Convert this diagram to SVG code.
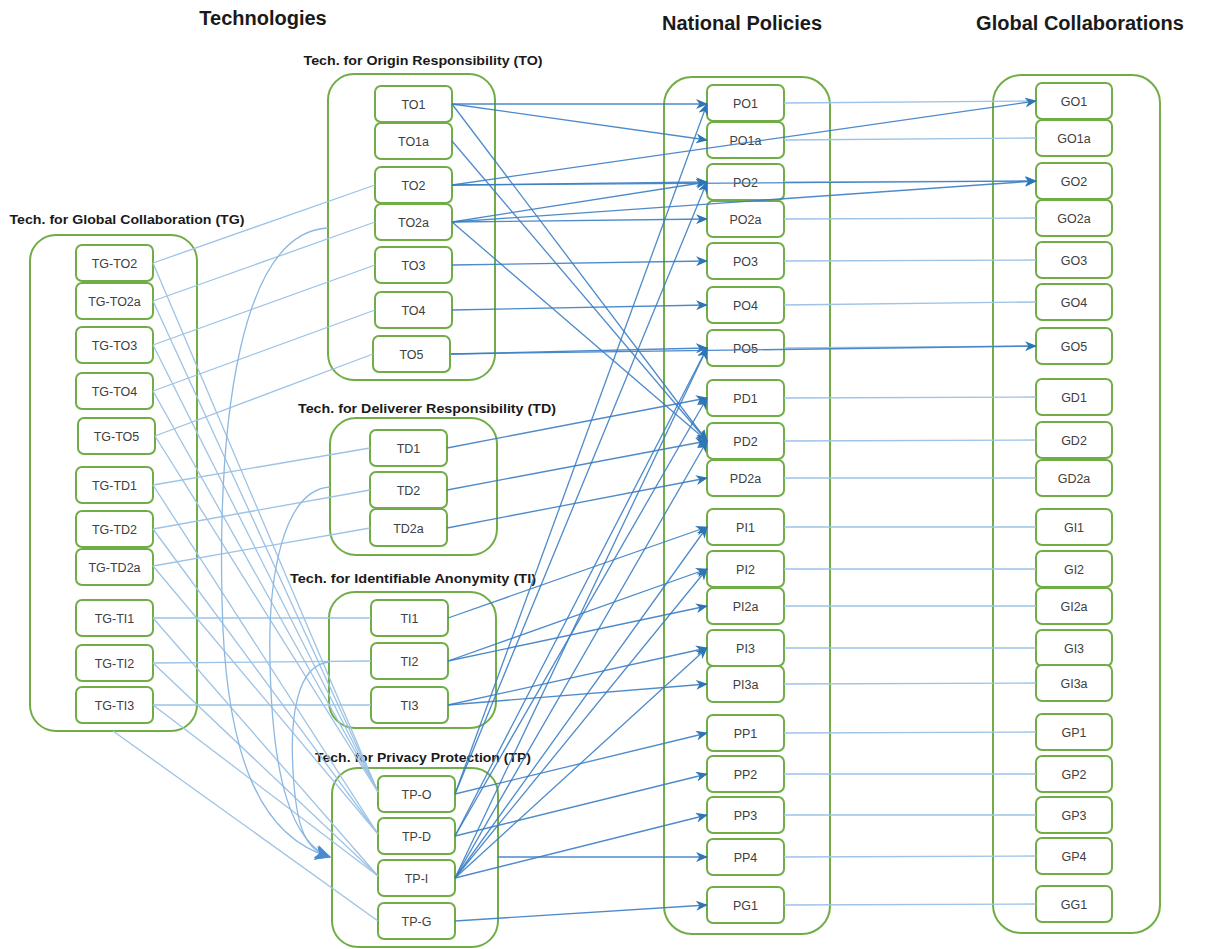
<svg xmlns="http://www.w3.org/2000/svg" width="1207" height="949" viewBox="0 0 1207 949">
<defs>
<marker id="ah" markerUnits="userSpaceOnUse" markerWidth="12" markerHeight="10" refX="11" refY="5" orient="auto">
<path d="M0,0 L12,5 L0,10 L3.5,5 Z" fill="#2E75B6"/>
</marker>
<marker id="ahb" markerUnits="userSpaceOnUse" markerWidth="16" markerHeight="14" refX="15" refY="7" orient="auto">
<path d="M0,0 L16,7 L0,14 L4,7 Z" fill="#4A8BD0"/>
</marker>
</defs>
<style>
.cont{fill:none;stroke:#70AD47;stroke-width:2}
.node rect{fill:#fff;stroke:#70AD47;stroke-width:2}
.node text{font-family:"Liberation Sans",Arial,sans-serif;font-size:12.5px;fill:#404040;text-anchor:middle}
.title{font-family:"Liberation Sans",Arial,sans-serif;font-weight:bold;font-size:20px;fill:#1a1a1a;text-anchor:middle}
.glabel{font-family:"Liberation Sans",Arial,sans-serif;font-weight:bold;font-size:12.5px;fill:#1a1a1a;text-anchor:middle}
.lt{fill:none;stroke:#9DC3E6;stroke-width:1.3}
.ar{fill:none;stroke:#3A7DC4;stroke-width:1.3;stroke-opacity:0.9;marker-end:url(#ah)}
.cv{fill:none;stroke:#8DB8E2;stroke-width:1.3;marker-end:url(#ahb)}
</style>

<g id="titles">
<text class="title" x="263" y="25">Technologies</text>
<text class="title" x="742" y="30">National Policies</text>
<text class="title" x="1080" y="30">Global Collaborations</text>
<text class="glabel" x="423" y="65" textLength="239" lengthAdjust="spacingAndGlyphs">Tech. for Origin Responsibility (TO)</text>
<text class="glabel" x="127" y="224" textLength="235" lengthAdjust="spacingAndGlyphs">Tech. for Global Collaboration (TG)</text>
<text class="glabel" x="427" y="413" textLength="258" lengthAdjust="spacingAndGlyphs">Tech. for Deliverer Responsibility (TD)</text>
<text class="glabel" x="413" y="583" textLength="246" lengthAdjust="spacingAndGlyphs">Tech. for Identifiable Anonymity (TI)</text>
<text class="glabel" x="423" y="762" textLength="216" lengthAdjust="spacingAndGlyphs">Tech. for Privacy Protection (TP)</text>
</g>

<g id="containers">
<rect class="cont" x="328" y="74" width="167" height="306" rx="26"/>
<rect class="cont" x="30" y="235" width="167" height="496" rx="26"/>
<rect class="cont" x="330" y="418" width="167" height="137" rx="26"/>
<rect class="cont" x="329" y="592" width="167" height="136" rx="26"/>
<rect class="cont" x="332" y="768" width="166" height="179" rx="26"/>
<rect class="cont" x="664" y="77" width="166" height="857" rx="28"/>
<rect class="cont" x="993" y="75" width="167" height="858" rx="28"/>
</g>

<g id="tg-nodes">
<g id="TG-TO2" class="node"><rect x="76" y="245" width="77" height="36" rx="6"/><text x="114.5" y="268">TG-TO2</text></g>
<g id="TG-TO2a" class="node"><rect x="76" y="283" width="77" height="36" rx="6"/><text x="114.5" y="306">TG-TO2a</text></g>
<g id="TG-TO3" class="node"><rect x="76" y="327" width="77" height="36" rx="6"/><text x="114.5" y="350">TG-TO3</text></g>
<g id="TG-TO4" class="node"><rect x="76" y="373" width="77" height="36" rx="6"/><text x="114.5" y="396">TG-TO4</text></g>
<g id="TG-TO5" class="node"><rect x="78" y="418" width="77" height="36" rx="6"/><text x="116.5" y="441">TG-TO5</text></g>
<g id="TG-TD1" class="node"><rect x="76" y="467" width="77" height="36" rx="6"/><text x="114.5" y="490">TG-TD1</text></g>
<g id="TG-TD2" class="node"><rect x="76" y="511" width="77" height="36" rx="6"/><text x="114.5" y="534">TG-TD2</text></g>
<g id="TG-TD2a" class="node"><rect x="76" y="549" width="77" height="36" rx="6"/><text x="114.5" y="572">TG-TD2a</text></g>
<g id="TG-TI1" class="node"><rect x="76" y="600" width="77" height="36" rx="6"/><text x="114.5" y="623">TG-TI1</text></g>
<g id="TG-TI2" class="node"><rect x="76" y="645" width="77" height="36" rx="6"/><text x="114.5" y="668">TG-TI2</text></g>
<g id="TG-TI3" class="node"><rect x="76" y="687" width="77" height="36" rx="6"/><text x="114.5" y="710">TG-TI3</text></g>
</g>

<g id="to-nodes">
<g id="TO1" class="node"><rect x="375" y="86" width="77" height="36" rx="6"/><text x="413.5" y="109">TO1</text></g>
<g id="TO1a" class="node"><rect x="375" y="123" width="77" height="36" rx="6"/><text x="413.5" y="146">TO1a</text></g>
<g id="TO2" class="node"><rect x="375" y="167" width="77" height="36" rx="6"/><text x="413.5" y="190">TO2</text></g>
<g id="TO2a" class="node"><rect x="375" y="204" width="77" height="36" rx="6"/><text x="413.5" y="227">TO2a</text></g>
<g id="TO3" class="node"><rect x="375" y="247" width="77" height="36" rx="6"/><text x="413.5" y="270">TO3</text></g>
<g id="TO4" class="node"><rect x="375" y="292" width="77" height="36" rx="6"/><text x="413.5" y="315">TO4</text></g>
<g id="TO5" class="node"><rect x="373" y="336" width="77" height="36" rx="6"/><text x="411.5" y="359">TO5</text></g>
</g>

<g id="td-nodes">
<g id="TD1" class="node"><rect x="370" y="430" width="77" height="36" rx="6"/><text x="408.5" y="453">TD1</text></g>
<g id="TD2" class="node"><rect x="370" y="472" width="77" height="36" rx="6"/><text x="408.5" y="495">TD2</text></g>
<g id="TD2a" class="node"><rect x="370" y="509" width="77" height="37" rx="6"/><text x="408.5" y="533">TD2a</text></g>
</g>

<g id="ti-nodes">
<g id="TI1" class="node"><rect x="371" y="600" width="77" height="36" rx="6"/><text x="409.5" y="623">TI1</text></g>
<g id="TI2" class="node"><rect x="371" y="643" width="77" height="36" rx="6"/><text x="409.5" y="666">TI2</text></g>
<g id="TI3" class="node"><rect x="371" y="687" width="77" height="36" rx="6"/><text x="409.5" y="710">TI3</text></g>
</g>

<g id="tp-nodes">
<g id="TP-O" class="node"><rect x="378" y="776" width="77" height="36" rx="6"/><text x="416.5" y="799">TP-O</text></g>
<g id="TP-D" class="node"><rect x="378" y="818" width="77" height="36" rx="6"/><text x="416.5" y="841">TP-D</text></g>
<g id="TP-I" class="node"><rect x="378" y="860" width="77" height="36" rx="6"/><text x="416.5" y="883">TP-I</text></g>
<g id="TP-G" class="node"><rect x="378" y="903" width="77" height="36" rx="6"/><text x="416.5" y="926">TP-G</text></g>
</g>

<g id="policy-nodes">
<g id="PO1" class="node"><rect x="707" y="85" width="77" height="36" rx="6"/><text x="745.5" y="108">PO1</text></g>
<g id="PO1a" class="node"><rect x="707" y="122" width="77" height="36" rx="6"/><text x="745.5" y="145">PO1a</text></g>
<g id="PO2" class="node"><rect x="707" y="164" width="77" height="36" rx="6"/><text x="745.5" y="187">PO2</text></g>
<g id="PO2a" class="node"><rect x="707" y="201" width="77" height="36" rx="6"/><text x="745.5" y="224">PO2a</text></g>
<g id="PO3" class="node"><rect x="707" y="243" width="77" height="36" rx="6"/><text x="745.5" y="266">PO3</text></g>
<g id="PO4" class="node"><rect x="707" y="287" width="77" height="36" rx="6"/><text x="745.5" y="310">PO4</text></g>
<g id="PO5" class="node"><rect x="707" y="330" width="77" height="36" rx="6"/><text x="745.5" y="353">PO5</text></g>
<g id="PD1" class="node"><rect x="707" y="380" width="77" height="36" rx="6"/><text x="745.5" y="403">PD1</text></g>
<g id="PD2" class="node"><rect x="707" y="423" width="77" height="36" rx="6"/><text x="745.5" y="446">PD2</text></g>
<g id="PD2a" class="node"><rect x="707" y="460" width="77" height="36" rx="6"/><text x="745.5" y="483">PD2a</text></g>
<g id="PI1" class="node"><rect x="707" y="509" width="77" height="36" rx="6"/><text x="745.5" y="532">PI1</text></g>
<g id="PI2" class="node"><rect x="707" y="551" width="77" height="36" rx="6"/><text x="745.5" y="574">PI2</text></g>
<g id="PI2a" class="node"><rect x="707" y="588" width="77" height="36" rx="6"/><text x="745.5" y="611">PI2a</text></g>
<g id="PI3" class="node"><rect x="707" y="630" width="77" height="36" rx="6"/><text x="745.5" y="653">PI3</text></g>
<g id="PI3a" class="node"><rect x="707" y="666" width="77" height="36" rx="6"/><text x="745.5" y="689">PI3a</text></g>
<g id="PP1" class="node"><rect x="707" y="715" width="77" height="36" rx="6"/><text x="745.5" y="738">PP1</text></g>
<g id="PP2" class="node"><rect x="707" y="756" width="77" height="36" rx="6"/><text x="745.5" y="779">PP2</text></g>
<g id="PP3" class="node"><rect x="707" y="797" width="77" height="36" rx="6"/><text x="745.5" y="820">PP3</text></g>
<g id="PP4" class="node"><rect x="707" y="839" width="77" height="36" rx="6"/><text x="745.5" y="862">PP4</text></g>
<g id="PG1" class="node"><rect x="707" y="887" width="77" height="36" rx="6"/><text x="745.5" y="910">PG1</text></g>
</g>

<g id="global-nodes">
<g id="GO1" class="node"><rect x="1036" y="83" width="76" height="36" rx="6"/><text x="1074" y="106">GO1</text></g>
<g id="GO1a" class="node"><rect x="1036" y="120" width="76" height="36" rx="6"/><text x="1074" y="143">GO1a</text></g>
<g id="GO2" class="node"><rect x="1036" y="163" width="76" height="36" rx="6"/><text x="1074" y="186">GO2</text></g>
<g id="GO2a" class="node"><rect x="1036" y="200" width="76" height="36" rx="6"/><text x="1074" y="223">GO2a</text></g>
<g id="GO3" class="node"><rect x="1036" y="242" width="76" height="36" rx="6"/><text x="1074" y="265">GO3</text></g>
<g id="GO4" class="node"><rect x="1036" y="284" width="76" height="36" rx="6"/><text x="1074" y="307">GO4</text></g>
<g id="GO5" class="node"><rect x="1036" y="328" width="76" height="36" rx="6"/><text x="1074" y="351">GO5</text></g>
<g id="GD1" class="node"><rect x="1036" y="379" width="76" height="36" rx="6"/><text x="1074" y="402">GD1</text></g>
<g id="GD2" class="node"><rect x="1036" y="422" width="76" height="36" rx="6"/><text x="1074" y="445">GD2</text></g>
<g id="GD2a" class="node"><rect x="1036" y="460" width="76" height="36" rx="6"/><text x="1074" y="483">GD2a</text></g>
<g id="GI1" class="node"><rect x="1036" y="509" width="76" height="36" rx="6"/><text x="1074" y="532">GI1</text></g>
<g id="GI2" class="node"><rect x="1036" y="551" width="76" height="36" rx="6"/><text x="1074" y="574">GI2</text></g>
<g id="GI2a" class="node"><rect x="1036" y="588" width="76" height="36" rx="6"/><text x="1074" y="611">GI2a</text></g>
<g id="GI3" class="node"><rect x="1036" y="630" width="76" height="36" rx="6"/><text x="1074" y="653">GI3</text></g>
<g id="GI3a" class="node"><rect x="1036" y="665" width="76" height="36" rx="6"/><text x="1074" y="688">GI3a</text></g>
<g id="GP1" class="node"><rect x="1036" y="714" width="76" height="36" rx="6"/><text x="1074" y="737">GP1</text></g>
<g id="GP2" class="node"><rect x="1036" y="756" width="76" height="36" rx="6"/><text x="1074" y="779">GP2</text></g>
<g id="GP3" class="node"><rect x="1036" y="797" width="76" height="36" rx="6"/><text x="1074" y="820">GP3</text></g>
<g id="GP4" class="node"><rect x="1036" y="838" width="76" height="36" rx="6"/><text x="1074" y="861">GP4</text></g>
<g id="GG1" class="node"><rect x="1036" y="886" width="76" height="36" rx="6"/><text x="1074" y="909">GG1</text></g>
</g>

<g id="connectors">
<!-- TG to TO/TD/TI -->
<line class="lt" x1="153" y1="263" x2="375" y2="185"/>
<line class="lt" x1="153" y1="301" x2="375" y2="222"/>
<line class="lt" x1="153" y1="345" x2="375" y2="265"/>
<line class="lt" x1="153" y1="391" x2="375" y2="310"/>
<line class="lt" x1="155" y1="436" x2="373" y2="354"/>
<line class="lt" x1="153" y1="485" x2="370" y2="448"/>
<line class="lt" x1="153" y1="529" x2="370" y2="490"/>
<line class="lt" x1="153" y1="566" x2="370" y2="528"/>
<line class="lt" x1="153" y1="618" x2="371" y2="618"/>
<line class="lt" x1="153" y1="663" x2="371" y2="661"/>
<line class="lt" x1="153" y1="705" x2="371" y2="705"/>
<!-- TG to TP -->
<line class="lt" x1="153" y1="263" x2="378" y2="792"/>
<line class="lt" x1="153" y1="301" x2="378" y2="792"/>
<line class="lt" x1="153" y1="345" x2="378" y2="792"/>
<line class="lt" x1="153" y1="391" x2="378" y2="792"/>
<line class="lt" x1="155" y1="436" x2="378" y2="792"/>
<line class="lt" x1="153" y1="485" x2="378" y2="834"/>
<line class="lt" x1="153" y1="529" x2="378" y2="834"/>
<line class="lt" x1="153" y1="566" x2="378" y2="834"/>
<line class="lt" x1="153" y1="618" x2="378" y2="876"/>
<line class="lt" x1="153" y1="663" x2="378" y2="876"/>
<line class="lt" x1="153" y1="705" x2="378" y2="876"/>
<line class="lt" x1="113" y1="731" x2="378" y2="921"/>
<!-- curves into TP -->
<path class="cv" d="M328,228 C240,232 218,420 222,600 C225,760 262,838 330,857"/>
<path class="cv" d="M330,487 C282,490 268,580 270,660 C272,780 292,842 330,857"/>
<path class="cv" d="M329,662 C296,665 290,720 293,770 C296,830 306,850 330,857"/>
<!-- PO to GO -->
<line class="lt" x1="784" y1="103" x2="1036" y2="101"/>
<line class="lt" x1="784" y1="140" x2="1036" y2="138"/>
<line class="lt" x1="784" y1="182" x2="1036" y2="181"/>
<line class="lt" x1="784" y1="219" x2="1036" y2="218"/>
<line class="lt" x1="784" y1="261" x2="1036" y2="260"/>
<line class="lt" x1="784" y1="305" x2="1036" y2="302"/>
<line class="lt" x1="784" y1="348" x2="1036" y2="346"/>
<line class="lt" x1="784" y1="398" x2="1036" y2="397"/>
<line class="lt" x1="784" y1="441" x2="1036" y2="440"/>
<line class="lt" x1="784" y1="478" x2="1036" y2="478"/>
<line class="lt" x1="784" y1="527" x2="1036" y2="527"/>
<line class="lt" x1="784" y1="569" x2="1036" y2="569"/>
<line class="lt" x1="784" y1="606" x2="1036" y2="606"/>
<line class="lt" x1="784" y1="648" x2="1036" y2="648"/>
<line class="lt" x1="784" y1="684" x2="1036" y2="683"/>
<line class="lt" x1="784" y1="733" x2="1036" y2="732"/>
<line class="lt" x1="784" y1="774" x2="1036" y2="774"/>
<line class="lt" x1="784" y1="815" x2="1036" y2="815"/>
<line class="lt" x1="784" y1="857" x2="1036" y2="856"/>
<line class="lt" x1="784" y1="905" x2="1036" y2="904"/>
<!-- TO arrows -->
<line class="ar" x1="452" y1="104" x2="707" y2="104"/>
<line class="ar" x1="452" y1="104" x2="707" y2="140"/>
<line class="ar" x1="452" y1="104" x2="707" y2="441"/>
<line class="ar" x1="452" y1="141" x2="707" y2="441"/>
<line class="ar" x1="452" y1="185" x2="707" y2="182"/>
<line class="ar" x1="452" y1="185" x2="1036" y2="101"/>
<line class="ar" x1="452" y1="185" x2="1036" y2="181"/>
<line class="ar" x1="452" y1="222" x2="707" y2="182"/>
<line class="ar" x1="452" y1="222" x2="707" y2="219"/>
<line class="ar" x1="452" y1="222" x2="1036" y2="181"/>
<line class="ar" x1="452" y1="222" x2="707" y2="441"/>
<line class="ar" x1="452" y1="265" x2="707" y2="261"/>
<line class="ar" x1="452" y1="310" x2="707" y2="305"/>
<line class="ar" x1="451" y1="354" x2="707" y2="348"/>
<line class="ar" x1="451" y1="354" x2="1036" y2="346"/>
<!-- TD arrows -->
<line class="ar" x1="447" y1="448" x2="707" y2="398"/>
<line class="ar" x1="447" y1="490" x2="707" y2="441"/>
<line class="ar" x1="447" y1="528" x2="707" y2="478"/>
<!-- TI arrows -->
<line class="ar" x1="448" y1="618" x2="707" y2="527"/>
<line class="ar" x1="448" y1="661" x2="707" y2="569"/>
<line class="ar" x1="448" y1="661" x2="707" y2="606"/>
<line class="ar" x1="448" y1="705" x2="707" y2="648"/>
<line class="ar" x1="448" y1="705" x2="707" y2="684"/>
<!-- TP arrows -->
<line class="ar" x1="455" y1="794" x2="707" y2="733"/>
<line class="ar" x1="455" y1="836" x2="707" y2="774"/>
<line class="ar" x1="455" y1="878" x2="707" y2="815"/>
<line class="ar" x1="498" y1="857" x2="707" y2="857"/>
<line class="ar" x1="455" y1="921" x2="707" y2="905"/>
<line class="ar" x1="455" y1="794" x2="707" y2="104"/>
<line class="ar" x1="455" y1="794" x2="707" y2="182"/>
<line class="ar" x1="455" y1="836" x2="707" y2="348"/>
<line class="ar" x1="455" y1="836" x2="707" y2="398"/>
<line class="ar" x1="455" y1="878" x2="707" y2="348"/>
<line class="ar" x1="455" y1="878" x2="707" y2="441"/>
<line class="ar" x1="455" y1="878" x2="707" y2="527"/>
<line class="ar" x1="455" y1="878" x2="707" y2="569"/>
<line class="ar" x1="455" y1="878" x2="707" y2="648"/>
</g>
</svg>
